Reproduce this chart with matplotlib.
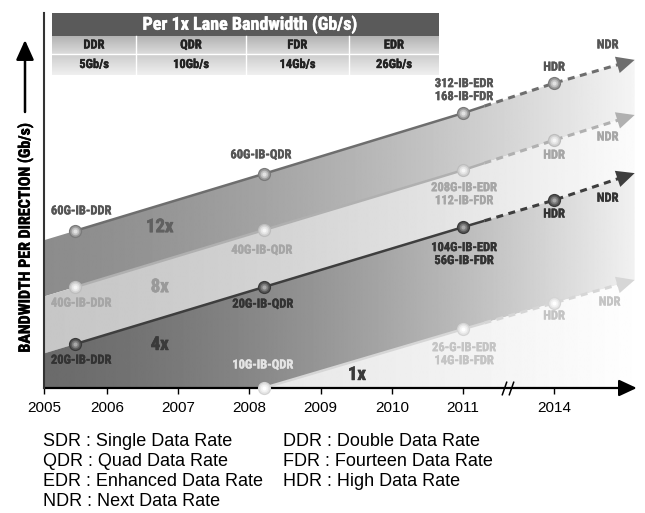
import numpy as np
import matplotlib.pyplot as plt
import matplotlib.patheffects as pe
from matplotlib.patches import Polygon, Rectangle
from matplotlib.path import Path

plt.rcParams['font.family'] = ['Liberation Sans', 'DejaVu Sans']
NARROW = ['Liberation Sans Narrow', 'Roboto Condensed', 'Liberation Sans']

# time axis (broken after 2011)
years = [2005, 2006, 2007, 2008, 2009, 2010, 2011, 2014]

# InfiniBand generations along each link-width trend
generations = ['DDR', 'QDR', 'EDR/FDR', 'HDR', 'NDR']
gen_years = [2005.55, 2008.2, 2011.0, 2014.0, 2016.65]

# relative bandwidth level of each link width per generation
level_12x = [41.9, 57.1, 73.3, 81.3, 87.5]
level_8x = [26.9, 42.1, 58.1, 66.1, 72.8]
level_4x = [11.7, 26.9, 42.9, 50.1, 57.3]
level_1x = [np.nan, 0.0, 15.7, 22.7, 28.8]

labels_12x = ['60G-IB-DDR', '60G-IB-QDR', '312-IB-EDR\n168-IB-FDR', 'HDR', 'NDR']
labels_8x = ['40G-IB-DDR', '40G-IB-QDR', '208G-IB-EDR\n112-IB-FDR', 'HDR', 'NDR']
labels_4x = ['20G-IB-DDR', '20G-IB-QDR', '104G-IB-EDR\n56G-IB-FDR', 'HDR', 'NDR']
labels_1x = ['', '10G-IB-QDR', '26-G-IB-EDR\n14G-IB-FDR', 'HDR', 'NDR']

lane_gens = ['DDR', 'QDR', 'FDR', 'EDR']
lane_rates = ['5Gb/s', '10Gb/s', '14Gb/s', '26Gb/s']

abbrevs = [('SDR : Single Data Rate', 'DDR : Double Data Rate'),
           ('QDR : Quad Data Rate', 'FDR : Fourteen Data Rate'),
           ('EDR : Enhanced Data Rate', 'HDR : High Data Rate'),
           ('NDR : Next Data Rate', '')]

X0 = 2005.115
X1 = X0 + 601 / 71.2


def tpos(yr):
    yr = np.asarray(yr, dtype=float)
    return np.where(yr <= 2011, yr, 2011 + (yr - 2011) * 0.4267)


def extend_left(xs, vs):
    slope = (vs[1] - vs[0]) / (xs[1] - xs[0])
    return vs[0] - slope * (xs[0] - X0)


def heavy(color, w=0.4):
    # thicken the condensed face a little
    return [pe.withStroke(linewidth=w, foreground=color)]


def band(ax, top, bottom, left, right):
    verts = list(top) + list(bottom[::-1])
    poly = Polygon(verts, closed=True, facecolor='none', edgecolor='none')
    ax.add_patch(poly)
    t = np.linspace(0, 1, 500) ** 1.5
    shade = left + (right - left) * t
    im = ax.imshow(shade[np.newaxis, :], cmap='gray', vmin=0, vmax=1,
                   extent=(X0, X1, 0, 100), aspect='auto',
                   interpolation='bilinear', zorder=1)
    im.set_clip_path(poly)


def trend(ax, xs, vs, color, split=2011.3):
    ok = ~np.isnan(vs)
    xs, vs = xs[ok], vs[ok]
    tip = xs[-1]
    m = xs < split
    ax.plot(np.append(xs[m], split), np.append(vs[m], np.interp(split, xs, vs)),
            color=color, lw=1.8, solid_capstyle='butt', zorder=3)
    end = tip - 0.15
    xd = np.concatenate([[split], xs[(xs > split) & (xs < end)], [end]])
    ax.plot(xd, np.interp(xd, xs, vs), color=color, lw=2.2,
            ls=(0, (2.3, 1.8)), zorder=3)
    back = tip - 0.4
    ax.annotate('', xy=(tip, vs[-1]), xytext=(back, np.interp(back, xs, vs)),
                arrowprops=dict(arrowstyle='-|>,head_length=1.0,head_width=0.47',
                                mutation_scale=13, lw=0, color=color,
                                shrinkA=0, shrinkB=0),
                annotation_clip=False, zorder=4)


def spheres(ax, xs, vs, shades):
    for s, c in zip([90, 58, 30, 9], shades):
        ax.scatter(xs, vs, s=s, color=c, linewidths=0, zorder=6, clip_on=False)


fig = plt.figure(figsize=(6.45, 5.13), dpi=100)
ax = fig.add_axes([44 / 645, 125 / 513, 601 / 645, 375 / 513])

gx = tpos(gen_years)
l12, l8, l4, l1 = (np.array(v, dtype=float) for v in (level_12x, level_8x, level_4x, level_1x))

top12 = [(X0, extend_left(gx, l12))] + list(zip(gx, l12))
top8 = [(X0, extend_left(gx, l8))] + list(zip(gx, l8))
top4 = [(X0, extend_left(gx, l4))] + list(zip(gx, l4))
ok1 = ~np.isnan(l1)
top1 = list(zip(gx[ok1], l1[ok1]))

band(ax, top12, top8, 0.55, 0.97)
band(ax, top8, top4, 0.78, 0.99)
band(ax, top4, [(X0, 0.0)] + top1, 0.42, 0.96)
band(ax, top1, [(gx[-1], 0.0)], 0.88, 1.0)

series = [
    (l12, labels_12x, '#6e6e6e', '#555555', ['#7a7a7a', '#9c9c9c', '#c2c2c2', '#e2e2e2'],
     [(-17.3, 14.4, 'left'), (-2, 13.7, 'center'), (0.7, 16.6, 'center'), (0, 11.5, 'center'), (-19.4, 10.8, 'center')]),
    (l8, labels_8x, '#b0b0b0', '#a6a6a6', ['#bdbdbd', '#d3d3d3', '#e6e6e6', '#f6f6f6'],
     [(-17.3, -11.5, 'left'), (-1.4, -14.4, 'center'), (0.7, -17.3, 'center'), (0, -10.8, 'center'), (-19.4, -15.8, 'center')]),
    (l4, labels_4x, '#3e3e3e', '#333333', ['#3a3a3a', '#575757', '#7c7c7c', '#a8a8a8'],
     [(-17.3, -11.5, 'left'), (-0.7, -12.2, 'center'), (0.7, -19.4, 'center'), (0, -10, 'center'), (-19.4, -18, 'center')]),
    (l1, labels_1x, '#d6d6d6', '#c4c4c4', ['#d4d4d4', '#e6e6e6', '#f3f3f3', '#ffffff'],
     [(0, 0, 'left'), (-0.7, 16.6, 'center'), (0.7, -18, 'center'), (0, -9.4, 'center'), (-18, -15.8, 'center')]),
]

for lv, labs, lc, tc, shades, offs in series:
    trend(ax, gx, lv, lc)
    ok = ~np.isnan(lv[:-1])
    spheres(ax, gx[:-1][ok], lv[:-1][ok], shades)
    for x, v, lab, (dx, dy, ha) in zip(gx, lv, labs, offs):
        if not lab:
            continue
        col = '#e4e4e4' if lab == '10G-IB-QDR' else tc
        ax.annotate(lab, (x, v), xytext=(dx, dy), textcoords='offset points',
                    ha=ha, va='center', fontsize=9, fontweight='bold',
                    family=NARROW, color=col, linespacing=1.0, zorder=7,
                    annotation_clip=False, path_effects=heavy(col, 0.3))

# link-width names inside the bands
for txt, x, v, c in [('12x', 2006.74, 42.9, '#606060'), ('8x', 2006.74, 26.9, '#9a9a9a'),
                     ('4x', 2006.74, 11.5, '#3a3a3a'), ('1x', 2009.51, 3.5, '#3a3a3a')]:
    ax.text(x, v, txt, ha='center', va='center', fontsize=13.5, fontweight='bold',
            family=NARROW, color=c, zorder=7, path_effects=heavy(c, 0.5))

# axes
ax.plot([X0, X0], [0, 100], color='#333333', lw=1.5, clip_on=False, zorder=8)
ax.annotate('', xy=(2013.44, 0), xytext=(X0, 0),
            arrowprops=dict(arrowstyle='-|>,head_length=0.9,head_width=0.42',
                            mutation_scale=12, lw=1.6, color='black',
                            shrinkA=0, shrinkB=0),
            annotation_clip=False, zorder=5)
slash = Path([(-0.35, -1), (0.35, 1)])
ax.plot([2011.58, 2011.68], [0, 0], ls='none', marker=slash, ms=10,
        mec='black', mew=1.1, clip_on=False, zorder=8)

ax.set_xlim(X0, X1)
ax.set_ylim(0, 100)
for s in ax.spines.values():
    s.set_visible(False)
ax.set_yticks([])
ax.set_xticks([max(float(tpos(y)), X0) for y in years])
ax.set_xticklabels([str(y) for y in years])
ax.tick_params(axis='x', length=4, width=1, direction='out', pad=5, labelsize=11)

# y label with arrow
fig.text(25 / 645, 1 - 238 / 513, 'BANDWIDTH PER DIRECTION (Gb/s)', rotation=90,
         ha='center', va='center', fontsize=11.5, fontweight='bold', family=NARROW,
         path_effects=heavy('black', 0.3))
ax.annotate('', xy=(25 / 645, 1 - 40 / 513), xytext=(25 / 645, 1 - 112 / 513),
            xycoords='figure fraction', textcoords='figure fraction',
            arrowprops=dict(arrowstyle='-|>,head_length=1.0,head_width=0.45',
                            mutation_scale=12, lw=1.8, color='black',
                            shrinkA=0, shrinkB=0))

# per-lane bandwidth table
tab = fig.add_axes([52 / 645, 1 - 75 / 513, 387 / 645, 62 / 513])
tab.axis('off')
tab.add_patch(Rectangle((0, 39), 1, 23, facecolor='#5a5a5a', edgecolor='none'))
tab.text(0.51, 50.5, 'Per 1x Lane Bandwidth (Gb/s)', ha='center', va='center',
         color='white', fontsize=13, fontweight='bold', family=NARROW,
         path_effects=heavy('white', 0.3))
for y0, y1, g_top, g_bot in [(21, 39, 0.70, 0.86), (0, 21, 0.80, 0.94)]:
    grad = np.linspace(g_top, g_bot, 50)[:, np.newaxis]
    tab.imshow(grad, cmap='gray', vmin=0, vmax=1, extent=(0, 1, y0, y1),
               aspect='auto', interpolation='bilinear')
tab.set_xlim(0, 1)
tab.set_ylim(0, 62)
edges = [0, 0.217, 0.501, 0.767, 1]
for e in edges[1:-1]:
    tab.plot([e, e], [0, 39], color='white', lw=1)
tab.plot([0, 1], [21, 21], color='white', lw=1)
for i in range(4):
    cx = (edges[i] + edges[i + 1]) / 2
    tab.text(cx, 30, lane_gens[i], ha='center', va='center', fontsize=9,
             fontweight='bold', family=NARROW, color='#222222',
             path_effects=heavy('#222222', 0.3))
    tab.text(cx, 10.5, lane_rates[i], ha='center', va='center', fontsize=9,
             fontweight='bold', family=NARROW, color='#222222',
             path_effects=heavy('#222222', 0.3))

# abbreviations
for r, (left, right) in enumerate(abbrevs):
    y = 1 - (442 + 20 * r) / 513
    fig.text(43 / 645, y, left, ha='left', va='center', fontsize=13)
    if right:
        fig.text(283 / 645, y, right, ha='left', va='center', fontsize=13)

fig.savefig('out.png', dpi=100)
